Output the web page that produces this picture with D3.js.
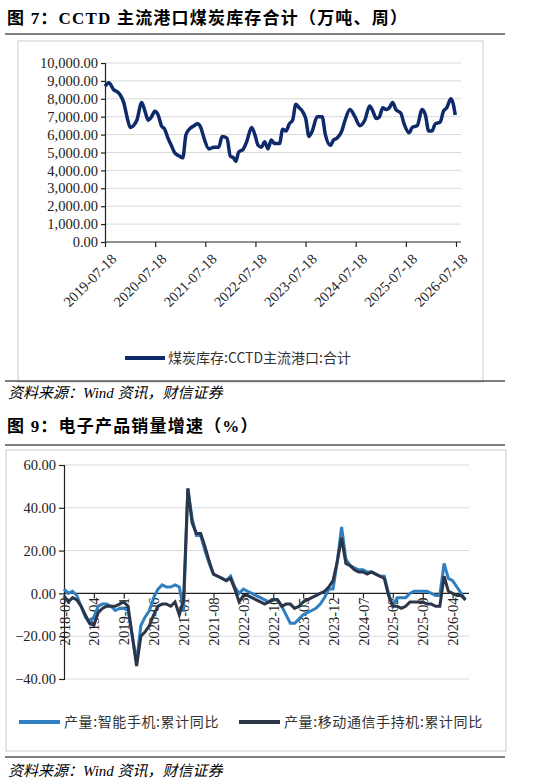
<!DOCTYPE html><html><head><meta charset="utf-8">
<script src="https://cdn.jsdelivr.net/npm/d3@7"></script>
<style>body{margin:0;background:#fff}svg{display:block}</style></head><body>
<script>
// Chart 1: coal stock (decimal year, value)
const coalYears=[313,325,340,350,360,370,380,390,400,410,425,435,445,455,465,475,485,495,505,515,525,540,550,560,570,585,595,605,615,630,645,660,670,685,695,705,712,720,735,745,760,770,780,790,800,810,820,830,845,855,865,875,885,895,905,915,925,935,945,960,975,985,1000,1010,1020,1035,1045,1060,1075,1090,1105,1120,1130,1140,1150,1160,1170,1180,1190,1200,1215,1225,1240,1250,1265,1280,1290,1300,1310,1320,1335,1345,1355,1368,1375,1381].map(z=>2019.545+(z-313)/152.9);
const coalValues=[8700,8900,8500,8400,8200,7800,7000,6400,6500,6800,7800,7300,6800,7000,7300,7100,6500,6300,5800,5400,5000,4800,4700,6000,6300,6500,6600,6400,5800,5200,5300,5300,5900,5800,4800,4700,4500,5000,5200,5600,6400,6000,5400,5300,5600,5200,5700,5500,5500,6300,6200,6600,6800,7700,7500,7300,6900,5900,6200,7000,7000,6000,5400,5700,5800,6200,6800,7400,7000,6500,6800,7600,7300,6900,7000,7500,7400,7500,7800,7400,7200,6600,6100,6400,6500,7400,7100,6200,6200,6600,6700,7300,7500,8000,7700,7100];
const coalTickLabels=["2019-07-18","2020-07-18","2021-07-18","2022-07-18","2023-07-18","2024-07-18","2025-07-18","2026-07-18"];
const coalYTicks=[0,1000,2000,3000,4000,5000,6000,7000,8000,9000,10000];
// Chart 2: monthly 2018-09 .. 2026-07
const monthTickLabels=["2018-09","2019-04","2019-11","2020-06","2021-01","2021-08","2022-03","2022-10","2023-05","2023-12","2024-07","2025-02","2025-09","2026-04"];
const smartphone=[2,0,1,-1,-6,-11,-14,-11,-6,-5,-5,-6,-8,-7,-7,-8,-20,-32,-15,-11,-8,-2,2,4,3,3,4,3,-8,49,35,27,27,20,14,9,8,7,6,8,3,0,2,1,0,-1,-2,-3,-4,-3,-3,-6,-10,-14,-14,-12,-10,-9,-8,-7,-5,-2,2,2,15,31,16,13,12,11,11,10,10,9,8,8,0,-6,-2,-2,-2,0,1,1,1,1,0,-1,-1,14,7,6,3,0,-3];
const mobile=[-1,-4,-2,-3,-6,-10,-14,-15,-9,-7,-6,-6,-6,-5,-4,-6,-20,-34,-20,-18,-15,-10,-6,-5,-5,-6,-4,-10,-3,49,33,28,28,22,15,9,8,7,6,7,2,-4,-1,-1,-2,-3,-4,-5,-4,-3,-3,-6,-5,-5,-7,-6,-4,-3,-2,-1,0,1,3,6,15,26,14,13,11,10,10,9,10,9,8,7,-1,-6,-6,-7,-6,-4,-4,-4,-4,-5,-5,-6,-6,8,1,0,-1,-1,-3];
const yTicks2=[-40,-20,0,20,40,60];

const serif='"Liberation Serif","DejaVu Serif",serif', cjk='"Noto Sans CJK SC",sans-serif';
const svg=d3.select("body").append("svg").attr("width",534).attr("height",782);
function title(y,t){svg.append("text").attr("x",7).attr("y",y).attr("font-family",serif+","+cjk).attr("font-weight","bold").attr("font-size",17).attr("letter-spacing",1.2).text(t);}
function rule(y){svg.append("line").attr("x1",5).attr("x2",505).attr("y1",y).attr("y2",y).attr("stroke","#000").attr("stroke-width",1.2);}
function source(y){svg.append("text").attr("x",8).attr("y",y).attr("font-family",serif+","+cjk).attr("font-style","italic").attr("font-size",15).text("资料来源：Wind 资讯，财信证券");}

// ---- chart 1
title(24,"图 7：CCTD  主流港口煤炭库存合计（万吨、周）");
rule(34);
svg.append("rect").attr("x",18).attr("y",41).attr("width",465).attr("height",341).attr("fill","#fff").attr("stroke","#ddd").attr("stroke-width",1.5);
const x1=d3.scaleLinear().domain([2019.545,2026.545]).range([105,456]);
const y1=d3.scaleLinear().domain([0,10000]).range([242,63]);
const g1=svg.append("g");
g1.selectAll("line.g").data(coalYTicks.slice(1)).join("line").attr("x1",105).attr("x2",461).attr("y1",d=>y1(d)).attr("y2",d=>y1(d)).attr("stroke","#d9d9d9");
const ay1=g1.append("g").attr("transform","translate(105,0)").call(d3.axisLeft(y1).tickValues(coalYTicks).tickSize(4).tickFormat(d3.format(",.2f")));
const ax1=g1.append("g").attr("transform","translate(0,242)").call(d3.axisBottom(x1).tickValues(coalTickLabels.map((d,i)=>2019.545+i)).tickSize(5).tickFormat((d,i)=>coalTickLabels[i]));
ax1.select(".domain").attr("d","M105,0H461");
ax1.selectAll("text").attr("transform","rotate(-45)").attr("text-anchor","end").attr("dx","-0.3em").attr("dy","0.9em");
[ay1,ax1].forEach(a=>{a.selectAll("text").attr("font-family",serif).attr("font-size",14.5).attr("fill","#222");a.selectAll("line,path").attr("stroke","#222").attr("stroke-width",1.2);});
g1.append("path").datum(coalYears.map((d,i)=>[d,coalValues[i]])).attr("d",d3.line().x(d=>x1(d[0])).y(d=>y1(d[1])).curve(d3.curveMonotoneX)).attr("fill","none").attr("stroke","#0e2a6b").attr("stroke-width",3.5);
svg.append("line").attr("x1",125).attr("x2",165).attr("y1",358).attr("y2",358).attr("stroke","#0e2a6b").attr("stroke-width",4);
svg.append("text").attr("x",168).attr("y",363).attr("font-family",cjk).attr("font-size",14).attr("fill","#333").text("煤炭库存:CCTD主流港口:合计");
rule(381); source(398);

// ---- chart 2
title(432,"图 9：电子产品销量增速（%）");
rule(445);
svg.append("rect").attr("x",6).attr("y",450).attr("width",500).attr("height",301).attr("fill","#fff").attr("stroke","#ddd").attr("stroke-width",1.5);
const x2=d3.scaleLinear().domain([0,94.6]).range([64,468]);
const y2=d3.scaleLinear().domain([-40,60]).range([679,465]);
const g2=svg.append("g");
g2.selectAll("line.g").data(yTicks2.filter(d=>d!==0)).join("line").attr("x1",64).attr("x2",469).attr("y1",d=>y2(d)).attr("y2",d=>y2(d)).attr("stroke","#d9d9d9");
const ay2=g2.append("g").attr("transform","translate(64,0)").call(d3.axisLeft(y2).tickValues(yTicks2).tickSize(5).tickFormat(d3.format(".2f")));
ay2.selectAll("text").attr("font-family",serif).attr("font-size",14.5).attr("fill","#222");
ay2.selectAll("line,path").attr("stroke","#222").attr("stroke-width",1.2);
const ax2=g2.append("g").attr("transform","translate(0,"+y2(0)+")").call(d3.axisBottom(x2).tickValues(monthTickLabels.map((d,i)=>i*7)).tickSize(5).tickFormat((d,i)=>monthTickLabels[i]));
ax2.select(".domain").attr("d","M64,0H469");
ax2.selectAll("line,path").attr("stroke","#222").attr("stroke-width",1.2);
ax2.selectAll("text").attr("transform","rotate(-90)").attr("text-anchor","end").attr("x",-4).attr("y",0).attr("dy","0.35em").attr("font-family",serif).attr("font-size",14.5).attr("fill","#222");
const ln=d3.line().x((d,i)=>x2(i)).y(d=>y2(d));
g2.append("path").datum(smartphone).attr("d",ln).attr("fill","none").attr("stroke","#2f7fc1").attr("stroke-width",3);
g2.append("path").datum(mobile).attr("d",ln).attr("fill","none").attr("stroke","#2b3648").attr("stroke-width",3);
svg.append("line").attr("x1",19).attr("x2",60).attr("y1",722).attr("y2",722).attr("stroke","#2f7fc1").attr("stroke-width",4);
svg.append("text").attr("x",64).attr("y",727).attr("font-family",cjk).attr("font-size",14).attr("letter-spacing",0.6).attr("fill","#333").text("产量:智能手机:累计同比");
svg.append("line").attr("x1",239).attr("x2",280).attr("y1",722).attr("y2",722).attr("stroke","#2b3648").attr("stroke-width",4);
svg.append("text").attr("x",284).attr("y",727).attr("font-family",cjk).attr("font-size",14).attr("letter-spacing",0.6).attr("fill","#333").text("产量:移动通信手持机:累计同比");
rule(757); source(776);
</script></body></html>
